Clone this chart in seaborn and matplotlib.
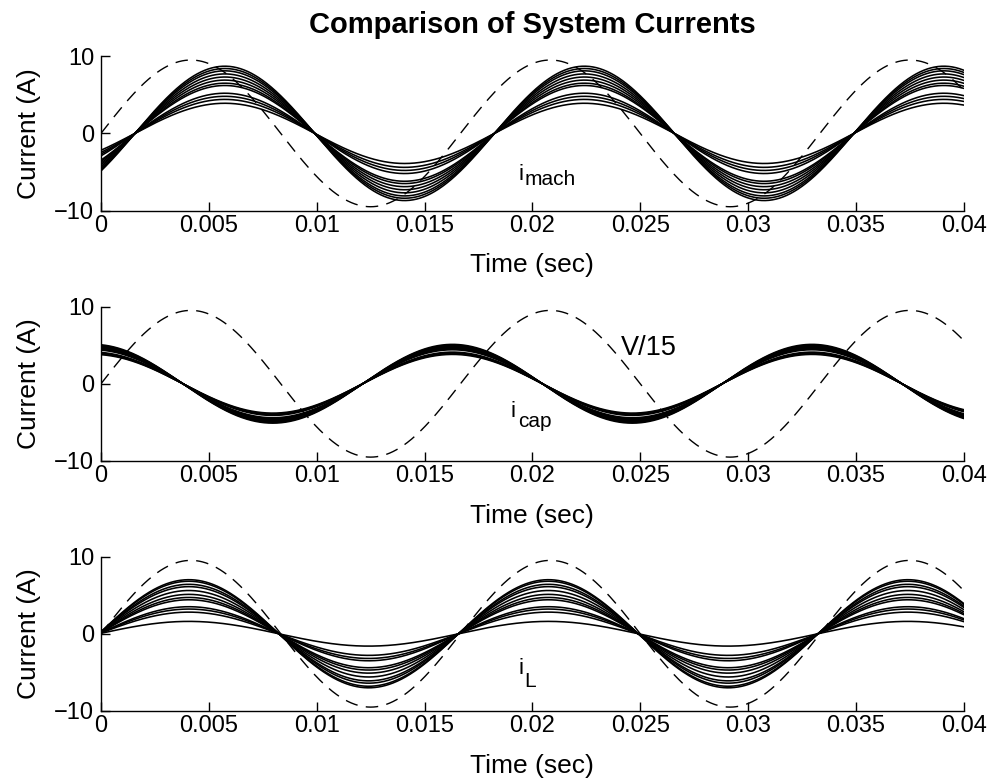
import numpy as np
import pandas as pd
import matplotlib
matplotlib.use("Agg")
import matplotlib.pyplot as plt
import seaborn as sns

# Supply frequency and time window
freq_hz = 60.0
t_start, t_end = 0.0, 0.04

# Scaled bus voltage V/15: peak (A-equivalent) and phase (deg)
v15_amp = 9.5
v15_phase_deg = 0.0

# Peak amplitude (A) of every trace in each family, and the family phase (deg)
imach_amps = [8.7, 8.4, 8.1, 7.7, 7.3, 6.9, 6.5, 6.2, 5.2, 4.8, 4.4, 3.9]
imach_phase_deg = -34.0

icap_amps = [5.1, 5.0, 4.9, 4.8, 4.7, 4.6, 4.5, 4.4, 4.1, 4.0, 3.9, 3.8]
icap_phase_deg = 98.0

il_amps = [7.0, 6.8, 6.4, 6.1, 5.6, 5.1, 4.7, 4.4, 3.5, 3.2, 2.8, 1.6]
il_phase_deg = 2.0

xtick_values = [0, 0.005, 0.01, 0.015, 0.02, 0.025, 0.03, 0.035, 0.04]
xtick_labels = ["0", "0.005", "0.01", "0.015", "0.02", "0.025", "0.03", "0.035", "0.04"]
ytick_values = [-10, 0, 10]
ytick_labels = ["\u221210", "0", "10"]

t = np.linspace(t_start, t_end, 1201)
omega = 2 * np.pi * freq_hz


def wave(amp, phase_deg):
    return amp * np.sin(omega * t + np.deg2rad(phase_deg))


def family_frame(amps, phase_deg):
    parts = []
    for k, a in enumerate(amps):
        parts.append(pd.DataFrame({"t": t, "I": wave(a, phase_deg), "run": k}))
    return pd.concat(parts, ignore_index=True)


v15_frame = pd.DataFrame({"t": t, "I": wave(v15_amp, v15_phase_deg)})

sns.set_theme(style="ticks")
plt.rcParams["font.family"] = ["Liberation Sans", "DejaVu Sans"]

fig = plt.figure(figsize=(9.94, 7.80), dpi=100)
fig.patch.set_facecolor("white")

left, width, height = 0.1016, 0.868, 0.198
bottoms = [0.730, 0.409, 0.0885]

panels = [
    (imach_amps, imach_phase_deg, ("i", "mach"), (0.01935, -6.0), (0.01962, -6.7)),
    (icap_amps, icap_phase_deg, ("i", "cap"), (0.0190, -4.35), (0.01934, -5.66)),
    (il_amps, il_phase_deg, ("i", "L"), (0.01935, -5.2), (0.01962, -6.9)),
]

axes = []
for b, (amps, ph, (main, sub), main_xy, sub_xy) in zip(bottoms, panels):
    ax = fig.add_axes([left, b, width, height])
    ax.set_facecolor("white")
    sns.lineplot(data=family_frame(amps, ph), x="t", y="I", units="run",
                 estimator=None, color="black", linewidth=1.15, ax=ax,
                 legend=False)
    sns.lineplot(data=v15_frame, x="t", y="I", color="black", linewidth=1.0,
                 dashes=False, ax=ax, legend=False)
    ax.lines[-1].set_dashes((9, 6))
    ax.set_xlim(t_start, t_end)
    ax.set_ylim(-10, 10)
    ax.set_xticks(xtick_values)
    ax.set_xticklabels(xtick_labels)
    ax.set_yticks(ytick_values)
    ax.set_yticklabels(ytick_labels)
    ax.tick_params(axis="both", direction="in", length=6.5, width=1.0,
                   color="black", labelsize=17, labelcolor="black")
    ax.tick_params(axis="x", pad=3)
    ax.tick_params(axis="y", pad=5)
    for s in ("top", "right"):
        ax.spines[s].set_visible(False)
    for s in ("left", "bottom"):
        ax.spines[s].set_color("black")
        ax.spines[s].set_linewidth(1.0)
    ax.set_xlabel("Time (sec)", fontsize=19, color="black", labelpad=12)
    ax.set_ylabel("Current (A)", fontsize=19, color="black", labelpad=9.5)
    ax.text(main_xy[0], main_xy[1], main, fontsize=16, color="black",
            va="baseline", ha="left")
    ax.text(sub_xy[0], sub_xy[1], sub, fontsize=15, color="black",
            va="baseline", ha="left")
    axes.append(ax)

axes[1].text(0.0241, 3.75, "V/15", fontsize=19.5, color="black",
             va="baseline", ha="left")

fig.text(0.536, 0.968, "Comparison of System Currents", fontsize=21,
         fontweight="bold", ha="center", va="center", color="black")

fig.savefig("out.png", dpi=100, facecolor="white")
